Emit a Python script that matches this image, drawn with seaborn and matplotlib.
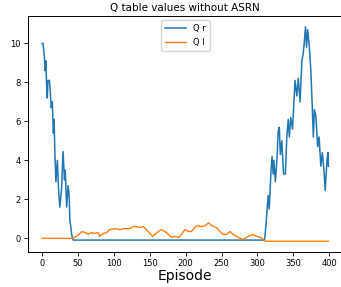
import matplotlib
matplotlib.use("Agg")
import matplotlib.pyplot as plt
import seaborn as sns
import pandas as pd

# Q r (blue)
qr_ep = [0, 1, 3, 4, 5, 6, 7, 8, 10, 11, 12.5, 14, 15.5, 16.5, 17.5, 19, 21, 23,
         24.5, 26, 27, 29, 31, 32, 34, 36, 37.5, 38.5, 40, 41, 43,
         310, 312, 315, 316.5, 319, 320.5, 322, 323, 325, 327.5, 329, 330.5, 332,
         334, 336.5, 339, 341, 343, 344.5, 346.5, 349, 352.5, 355, 357, 359.5, 362,
         364, 365.5, 367, 368.5, 370, 372.5, 374.5, 376.5, 378, 379.5, 381.5, 384,
         386, 388.5, 390.5, 393, 394.5, 397, 398.5, 399]
qr_val = [10.0, 10.0, 9.3, 8.6, 9.1, 7.9, 7.2, 8.1, 8.1, 7.6, 6.7, 7.0, 5.4, 6.1,
          4.5, 2.9, 4.0, 2.3, 1.6, 2.2, 2.6, 4.45, 3.0, 3.5, 1.6, 2.7, 2.2, 0.9,
          0.55, 0.2, -0.09,
          -0.09, 0.7, 2.2, 1.5, 3.5, 4.2, 3.3, 4.0, 2.9, 4.2, 5.5, 5.7, 4.3,
          5.0, 3.3, 3.3, 5.2, 6.1, 5.2, 6.2, 5.6, 8.1, 7.3, 8.2, 7.0, 9.1,
          9.5, 10.1, 10.85, 9.8, 10.7, 9.8, 8.6, 6.75, 5.2, 6.6, 6.3, 4.7,
          5.2, 3.7, 4.4, 3.4, 2.45, 4.0, 4.4, 3.7]

# Q l (orange)
ql_ep = [0, 42, 45, 50, 55, 60, 64, 69, 73, 78, 80, 85, 90, 94, 101, 108, 115,
         122, 127, 132, 136, 141, 145, 150, 154, 160, 166, 171, 176, 180, 185,
         190, 194, 199, 204, 208, 215, 222, 227, 232, 236, 243, 248, 252, 257,
         262, 266, 271, 276, 280, 285, 290, 294, 299, 304, 308, 311, 399]
ql_val = [0.0, 0.0, 0.05, 0.15, 0.35, 0.3, 0.2, 0.3, 0.25, 0.3, 0.1, 0.25, 0.3,
          0.45, 0.5, 0.45, 0.5, 0.5, 0.6, 0.6, 0.55, 0.6, 0.45, 0.25, 0.1, 0.3,
          0.45, 0.35, 0.2, 0.05, 0.1, 0.05, 0.2, 0.45, 0.35, 0.35, 0.65, 0.6,
          0.65, 0.8, 0.65, 0.55, 0.35, 0.2, 0.2, 0.35, 0.2, 0.1, 0.0, -0.05,
          0.05, 0.15, 0.2, 0.1, 0.05, -0.05, -0.15, -0.15]

df_r = pd.DataFrame({"Episode": qr_ep, "Q": qr_val})
df_l = pd.DataFrame({"Episode": ql_ep, "Q": ql_val})

fig = plt.figure(figsize=(3.41, 2.87), dpi=100)
ax = fig.add_axes([0.082, 0.122, 0.923, 0.822])

sns.lineplot(data=df_r, x="Episode", y="Q", ax=ax, color="#1f77b4", lw=1.1, label="Q r")
sns.lineplot(data=df_l, x="Episode", y="Q", ax=ax, color="#ff7f0e", lw=1.0, label="Q l")

ax.set_xticks([0, 50, 100, 150, 200, 250, 300, 350, 400])
ax.set_yticks([0, 2, 4, 6, 8, 10])
ax.tick_params(labelsize=6, length=3, width=0.6, pad=2)
ax.set_xlabel("Episode", fontsize=10, labelpad=1)
ax.set_ylabel("")
ax.set_title("Q table values without ASRN", fontsize=7.5, pad=4)
for s in ax.spines.values():
    s.set_linewidth(0.7)
ax.legend(loc="upper center", fontsize=6, handlelength=2.5, borderpad=0.5)

fig.savefig("out.png", dpi=100)
